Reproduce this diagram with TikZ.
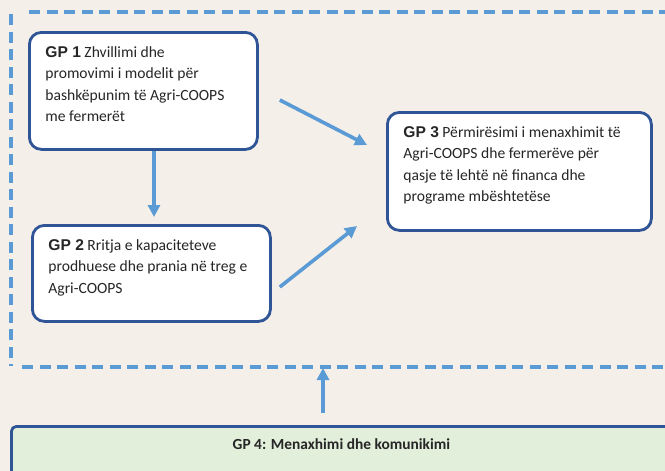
\documentclass[tikz,border=0pt]{standalone}
\usepackage{fontspec}
\setmainfont{Carlito}
\newfontfamily\gpfont{Liberation Sans}
\usetikzlibrary{arrows.meta,calc}
\definecolor{bgc}{HTML}{F5EFE9}
\definecolor{lblue}{HTML}{5B9BD5}
\definecolor{dblue}{HTML}{2F5597}
\definecolor{gfill}{HTML}{E2EFDA}
\definecolor{txt}{HTML}{262626}
\tikzset{
  gpbox/.style={draw=dblue, line width=2.8pt, rounded corners=12pt, fill=white,
    inner xsep=16pt, inner ysep=0pt, anchor=north west, text=txt,
    font=\fontsize{15.6}{21.5}\selectfont},
  conn/.style={draw=lblue, line width=3.6pt,
    -{Triangle[length=12pt,width=12pt]}},
  frame/.style={draw=lblue, line width=3.2pt, dash pattern=on 11pt off 6.5pt}
}
\newcommand{\gptag}[1]{{\gpfont\bfseries #1}}
\begin{document}
\begin{tikzpicture}[x=1pt,y=-1pt]
\path[use as bounding box, fill=bgc] (0,0) rectangle (665,471);
\clip (0,0) rectangle (665,471);
% dashed frame
\draw[frame] (29,12) -- (680,12);
\draw[frame] (11,14) -- (11,366);
\draw[frame] (22,367) -- (680,367);
\coordinate (frameb) at (323,367);
% boxes
\node[gpbox] (gp1) at (28,31)
  {\parbox[c][117pt][t]{196pt}{\raggedright\vspace*{14pt}\gptag{GP 1} Zhvillimi dhe\\promovimi i modelit për\\bashkëpunim të Agri-COOPS\\me fermerët}};
\node[gpbox] (gp2) at (31,224)
  {\parbox[c][96pt][t]{206pt}{\raggedright\vspace*{14pt}\gptag{GP 2} Rritja e kapaciteteve\\prodhuese dhe prania në treg e\\Agri-COOPS}};
\node[gpbox] (gp3) at (386,111)
  {\parbox[c][118pt][t]{232pt}{\raggedright\vspace*{14pt}\gptag{GP 3} Përmirësimi i menaxhimit të\\Agri-COOPS dhe fermerëve për\\qasje të lehtë në financa dhe\\programe mbështetëse}};
\node[draw=dblue, line width=2.8pt, rounded corners=5pt, fill=gfill, anchor=north west,
  inner sep=0pt, text=txt, font=\fontsize{15.4}{18}\selectfont\bfseries] (gp4) at (10,425)
  {\parbox[c][60pt][t]{660pt}{\centering\vspace*{12.5pt}GP 4: Menaxhimi dhe komunikimi}};
% connectors
\draw[conn, shorten >=7pt] ([xshift=126pt]gp1.south west) -- ([xshift=123pt]gp2.north west);
\draw[conn] ([shift={(21,69)}]gp1.north east) -- ([shift={(-19,34)}]gp3.north west);
\draw[conn] ([shift={(8,63)}]gp2.north east) -- ([shift={(-29,115)}]gp3.north west);
\draw[conn, shorten <=12pt, shorten >=1pt] (gp4.north -| frameb) -- (frameb);
\end{tikzpicture}
\end{document}
